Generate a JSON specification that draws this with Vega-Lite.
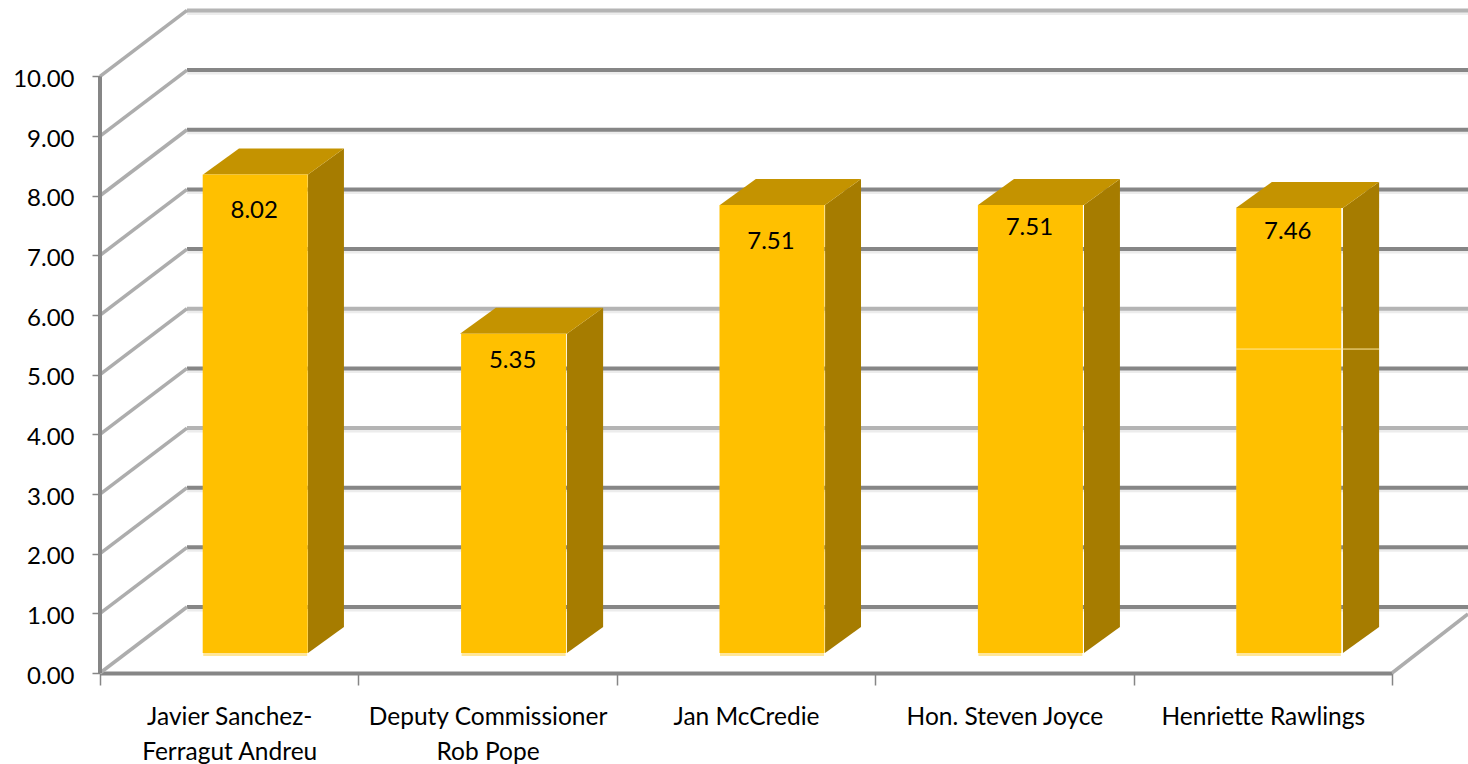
{"$schema":"https://vega.github.io/schema/vega-lite/v6.json","width":1368,"height":664,"autosize":{"type":"none"},"padding":{"left":100,"top":9,"right":0,"bottom":91},"background":"white","config":{"view":{"stroke":null},"font":"Lato","text":{"font":"Lato"}},
"datasets":{
"bars":[{"name":"Javier Sanchez-|Ferragut Andreu","value":8.02,"at":7.75},{"name":"Deputy Commissioner|Rob Pope","value":5.35,"at":5.23},{"name":"Jan McCredie","value":7.51,"at":7.23},{"name":"Hon. Steven Joyce","value":7.51,"at":7.46},{"name":"Henriette Rawlings","value":7.46,"at":7.40}],
"back":[{"level":0,"x":0.3367,"x2":5.294,"y":1.106},{"level":1,"x":0.3367,"x2":5.294,"y":2.106},{"level":2,"x":0.3367,"x2":5.294,"y":3.106},{"level":3,"x":0.3367,"x2":5.294,"y":4.106},{"level":4,"x":0.3367,"x2":5.294,"y":5.106},{"level":5,"x":0.3367,"x2":5.294,"y":6.106},{"level":6,"x":0.3367,"x2":5.294,"y":7.106},{"level":7,"x":0.3367,"x2":5.294,"y":8.106},{"level":8,"x":0.3367,"x2":5.294,"y":9.106},{"level":9,"x":0.3367,"x2":5.294,"y":10.106},{"level":10,"x":0.3367,"x2":5.294,"y":11.106}],
"depth":[{"x":0,"x2":0.3367,"y":0,"y2":1.106},{"x":0,"x2":0.3367,"y":1,"y2":2.106},{"x":0,"x2":0.3367,"y":2,"y2":3.106},{"x":0,"x2":0.3367,"y":3,"y2":4.106},{"x":0,"x2":0.3367,"y":4,"y2":5.106},{"x":0,"x2":0.3367,"y":5,"y2":6.106},{"x":0,"x2":0.3367,"y":6,"y2":7.106},{"x":0,"x2":0.3367,"y":7,"y2":8.106},{"x":0,"x2":0.3367,"y":8,"y2":9.106},{"x":0,"x2":0.3367,"y":9,"y2":10.106},{"x":0,"x2":0.3367,"y":10,"y2":11.106},{"x":5,"x2":5.294,"y":0,"y2":0.99}],
"axisline":[{"x":0,"from":0,"to":10}],
"sides":[{"bar":"a","x":0.805,"y":0.335,"y2":8.355},{"bar":"a","x":0.944,"y":0.771,"y2":8.791},{"bar":"b","x":1.807,"y":0.335,"y2":5.685},{"bar":"b","x":1.947,"y":0.771,"y2":6.121},{"bar":"c","x":2.806,"y":0.335,"y2":7.845},{"bar":"c","x":2.945,"y":0.771,"y2":8.281},{"bar":"d","x":3.808,"y":0.335,"y2":7.845},{"bar":"d","x":3.947,"y":0.771,"y2":8.281},{"bar":"e","x":4.810,"y":0.335,"y2":7.795},{"bar":"e","x":4.950,"y":0.771,"y2":8.231}],
"tops":[{"bar":"a","x":0.399,"y":8.355,"y2":8.355},{"bar":"a","x":0.538,"y":8.791,"y2":8.355},{"bar":"a","x":0.805,"y":8.791,"y2":8.355},{"bar":"a","x":0.944,"y":8.791,"y2":8.791},{"bar":"b","x":1.393,"y":5.685,"y2":5.685},{"bar":"b","x":1.532,"y":6.121,"y2":5.685},{"bar":"b","x":1.807,"y":6.121,"y2":5.685},{"bar":"b","x":1.947,"y":6.121,"y2":6.121},{"bar":"c","x":2.399,"y":7.845,"y2":7.845},{"bar":"c","x":2.538,"y":8.281,"y2":7.845},{"bar":"c","x":2.806,"y":8.281,"y2":7.845},{"bar":"c","x":2.945,"y":8.281,"y2":8.281},{"bar":"d","x":3.398,"y":7.845,"y2":7.845},{"bar":"d","x":3.537,"y":8.281,"y2":7.845},{"bar":"d","x":3.808,"y":8.281,"y2":7.845},{"bar":"d","x":3.947,"y":8.281,"y2":8.281},{"bar":"e","x":4.396,"y":7.795,"y2":7.795},{"bar":"e","x":4.535,"y":8.231,"y2":7.795},{"bar":"e","x":4.810,"y":8.231,"y2":7.795},{"bar":"e","x":4.950,"y":8.231,"y2":8.231}],
"seam":[{"x":4.396,"x2":4.950,"y":5.43}]
},
"resolve":{"scale":{"x":"independent"},"axis":{"x":"independent"}},
"layer":[
{"data":{"name":"back"},"mark":{"type":"rule","strokeWidth":4,"color":"#ececec","yOffset":2.5,"y2Offset":2.5},"encoding":{"x":{"field":"x","type":"quantitative","axis":null,"scale":{"domain":[0,5.294],"nice":false,"zero":false}},"x2":{"field":"x2"},"y":{"field":"y","type":"quantitative","scale":{"domain":[0,11.13],"nice":false},"title":null,"axis":{"values":[0,1,2,3,4,5,6,7,8,9,10],"format":".2f","domain":false,"grid":false,"tickSize":8,"tickColor":"#868686","tickWidth":1.5,"labelPadding":18,"labelOffset":3,"labelFontSize":24,"labelFont":"Lato","labelColor":"#000000"}}}},
{"data":{"name":"back"},"mark":{"type":"rule","strokeWidth":4},"encoding":{"x":{"field":"x","type":"quantitative","axis":null,"scale":{"domain":[0,5.294],"nice":false,"zero":false}},"x2":{"field":"x2"},"y":{"field":"y","type":"quantitative"},"color":{"condition":{"test":"datum.level==3||datum.level==5||datum.level==10","value":"#b4b4b4"},"value":"#868686"}}},
{"data":{"name":"depth"},"mark":{"type":"rule","strokeWidth":3.5,"color":"#adadad"},"encoding":{"x":{"field":"x","type":"quantitative","axis":null,"scale":{"domain":[0,5.294],"nice":false,"zero":false}},"x2":{"field":"x2"},"y":{"field":"y","type":"quantitative"},"y2":{"field":"y2"}}},
{"data":{"name":"axisline"},"mark":{"type":"rule","strokeWidth":4,"color":"#868686"},"encoding":{"x":{"field":"x","type":"quantitative","axis":null,"scale":{"domain":[0,5.294],"nice":false,"zero":false}},"y":{"field":"from","type":"quantitative"},"y2":{"field":"to"}}},
{"data":{"name":"bars"},"mark":{"type":"bar","size":104,"color":"#ffe699","xOffset":26,"x2Offset":26,"yOffset":-17,"y2Offset":-17},"encoding":{"x":{"field":"name","type":"nominal","sort":null,"title":null,"scale":{"range":[0,1292],"paddingInner":0,"paddingOuter":0},"axis":{"labelAngle":0,"tickBand":"extent","domainColor":"#868686","domainWidth":4,"tickColor":"#868686","tickWidth":1.5,"tickSize":12,"labelPadding":20,"labelFontSize":24.5,"labelFont":"Lato","labelColor":"#000000","labelLineHeight":35,"labelBaseline":"top","labelLimit":500,"labelExpr":"split(datum.label,'|')"}},"y":{"field":"value","type":"quantitative","stack":null},"y2":{"datum":0}}},
{"data":{"name":"sides"},"mark":{"type":"area","color":"#a67c00"},"encoding":{"x":{"field":"x","type":"quantitative","axis":null,"scale":{"domain":[0,5.294],"nice":false,"zero":false}},"y":{"field":"y","type":"quantitative","stack":null},"y2":{"field":"y2"},"detail":{"field":"bar"}}},
{"data":{"name":"tops"},"mark":{"type":"area","color":"#c49300"},"encoding":{"x":{"field":"x","type":"quantitative","axis":null,"scale":{"domain":[0,5.294],"nice":false,"zero":false}},"y":{"field":"y","type":"quantitative","stack":null},"y2":{"field":"y2"},"detail":{"field":"bar"}}},
{"data":{"name":"bars"},"mark":{"type":"bar","size":105,"color":"#ffc000","xOffset":26,"x2Offset":26,"yOffset":-20,"y2Offset":-20},"encoding":{"x":{"field":"name","type":"nominal","sort":null,"axis":null,"scale":{"range":[0,1292],"paddingInner":0,"paddingOuter":0}},"y":{"field":"value","type":"quantitative","stack":null},"y2":{"datum":0}}},
{"data":{"name":"seam"},"mark":{"type":"rule","strokeWidth":1,"color":"#ffe9a0"},"encoding":{"x":{"field":"x","type":"quantitative","axis":null,"scale":{"domain":[0,5.294],"nice":false,"zero":false}},"x2":{"field":"x2"},"y":{"field":"y","type":"quantitative"}}},
{"data":{"name":"bars"},"mark":{"type":"text","fontSize":24,"font":"Lato","color":"#000000","dx":25,"align":"center","baseline":"middle"},"encoding":{"x":{"field":"name","type":"nominal","sort":null,"axis":null,"scale":{"range":[0,1292],"paddingInner":0,"paddingOuter":0}},"y":{"field":"at","type":"quantitative"},"text":{"field":"value","type":"quantitative","format":".2f"}}}
]}
